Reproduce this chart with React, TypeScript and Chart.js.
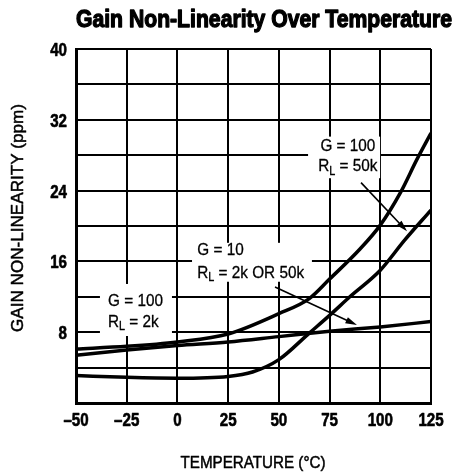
import { useEffect, useRef } from "react";
import { Chart, registerables } from "chart.js";

Chart.register(...registerables);

// ---- data (temperature °C, gain non-linearity ppm) ----
const tempsA = [-50, -25, 0, 25, 50, 65, 75, 90, 100, 110, 118, 125];
const gainA = [6.1, 6.4, 6.9, 7.8, 10.1, 11.8, 14.0, 17.4, 20.1, 23.8, 27.5, 30.5];

const tempsB = [-50, -25, 0, 25, 37, 50, 65, 75, 85, 100, 112, 125];
const gainB = [3.1, 2.9, 2.8, 3.0, 3.5, 4.9, 7.9, 9.9, 12.0, 15.0, 18.4, 21.8];

const tempsC = [-50, -25, 0, 25, 50, 75, 100, 125];
const gainC = [5.4, 6.0, 6.5, 6.9, 7.5, 8.1, 8.6, 9.2];

const xTicks = [-50, -25, 0, 25, 50, 75, 100, 125];
const yLabelTicks = [8, 16, 24, 32, 40];

const TITLE = "Gain Non-Linearity Over Temperature";
const X_TITLE = "TEMPERATURE (°C)";
const Y_TITLE = "GAIN NON-LINEARITY (ppm)";

// annotation labels, anchored in data coords (°C, ppm)
type Label = { g: string; rl: string; x: number; y1: number; y2: number; align: "center" | "left"; box: [number, number, number, number] };
const labels: Label[] = [
  { g: "G = 100", rl: "= 50k", x: 84.0, y1: 29.0, y2: 26.7, align: "center", box: [64.4, 30.1, 99.9, 25.4] },
  { g: "G = 10", rl: "= 2k OR 50k", x: 9.8, y1: 17.2, y2: 14.7, align: "left", box: [7.2, 18.1, 66.3, 13.7] },
  { g: "G = 100", rl: "= 2k", x: -34.2, y1: 11.5, y2: 9.15, align: "left", box: [-38.2, 13.45, -2.7, 7.57] },
];
const arrows: [number, number, number, number][] = [
  [90.5, 24.9, 113.2, 19.4],
  [48.1, 13.1, 88.5, 8.8],
];

const FONT = '"Liberation Sans", Arial, sans-serif';
const SX = 0.84; // horizontal condensing to mimic a condensed face
const LSX = 0.9;

const pts = (xs: number[], ys: number[]) => xs.map((x, i) => ({ x, y: ys[i] }));

// draw text condensed horizontally by factor sx, optional stroke to embolden
function drawText(ctx: CanvasRenderingContext2D, text: string, x: number, y: number, align: "left" | "center" | "right", sx: number, stroke = 0) {
  const w = ctx.measureText(text).width * sx;
  let left = x;
  if (align === "center") left = x - w / 2;
  else if (align === "right") left = x - w;
  ctx.save();
  ctx.translate(left, y);
  ctx.scale(sx, 1);
  ctx.textAlign = "left";
  ctx.fillText(text, 0, 0);
  if (stroke > 0) {
    ctx.lineWidth = stroke;
    ctx.lineJoin = "round";
    ctx.strokeText(text, 0, 0);
  }
  ctx.restore();
  return w;
}

const annotPlugin = {
  id: "annot",
  beforeDatasetsDraw(chart: any) {
    const { ctx, scales } = chart;
    const xs = scales.x, ys = scales.y;
    ctx.save();
    ctx.fillStyle = "#fff";
    for (const l of labels) {
      const [x0, y0, x1, y1] = l.box;
      const px0 = xs.getPixelForValue(x0), px1 = xs.getPixelForValue(x1);
      const py0 = ys.getPixelForValue(y0), py1 = ys.getPixelForValue(y1);
      ctx.fillRect(px0, py0, px1 - px0, py1 - py0);
    }
    ctx.restore();
  },
  afterDraw(chart: any) {
    const { ctx, scales } = chart;
    const xs = scales.x, ys = scales.y;
    ctx.save();
    ctx.fillStyle = "#000";
    ctx.strokeStyle = "#000";
    ctx.textBaseline = "middle";

    // tick labels
    ctx.font = `bold 18px ${FONT}`;
    for (const v of xTicks) {
      const t = v < 0 ? "–" + Math.abs(v) : String(v);
      drawText(ctx, t, xs.getPixelForValue(v), 421, "center", SX, 0.6);
    }
    for (const v of yLabelTicks) {
      drawText(ctx, String(v), 67, ys.getPixelForValue(v) + 2, "right", SX, 0.6);
    }

    // labels
    for (const l of labels) {
      const px = xs.getPixelForValue(l.x);
      const py1 = ys.getPixelForValue(l.y1);
      const py2 = ys.getPixelForValue(l.y2);
      ctx.font = `17px ${FONT}`;
      const gW = ctx.measureText(l.g).width * LSX;
      const rW = ctx.measureText("R").width * LSX;
      const restW = ctx.measureText(" " + l.rl).width * LSX;
      ctx.font = `12px ${FONT}`;
      const subW = ctx.measureText("L").width * LSX;
      const total = rW + subW + restW;
      let gx = px, rx = px;
      if (l.align === "center") {
        gx = px - gW / 2;
        rx = px - total / 2;
      }
      ctx.font = `17px ${FONT}`;
      drawText(ctx, l.g, gx, py1, "left", LSX, 0.3);
      drawText(ctx, "R", rx, py2, "left", LSX, 0.3);
      drawText(ctx, " " + l.rl, rx + rW + subW, py2, "left", LSX, 0.3);
      ctx.font = `12px ${FONT}`;
      drawText(ctx, "L", rx + rW, py2 + 5, "left", LSX, 0.3);
    }

    // arrows
    ctx.lineWidth = 1.6;
    for (const [ax0, ay0, ax1, ay1] of arrows) {
      const x0 = xs.getPixelForValue(ax0), y0 = ys.getPixelForValue(ay0);
      const x1 = xs.getPixelForValue(ax1), y1 = ys.getPixelForValue(ay1);
      const ang = Math.atan2(y1 - y0, x1 - x0);
      const len = 12, wid = 0.28;
      ctx.beginPath();
      ctx.moveTo(x0, y0);
      ctx.lineTo(x1 - 6 * Math.cos(ang), y1 - 6 * Math.sin(ang));
      ctx.stroke();
      ctx.beginPath();
      ctx.moveTo(x1, y1);
      ctx.lineTo(x1 - len * Math.cos(ang - wid), y1 - len * Math.sin(ang - wid));
      ctx.lineTo(x1 - len * Math.cos(ang + wid), y1 - len * Math.sin(ang + wid));
      ctx.closePath();
      ctx.fill();
    }

    // chart title
    ctx.font = `bold 24px ${FONT}`;
    const tw = ctx.measureText(TITLE).width;
    drawText(ctx, TITLE, 264, 20, "center", 376 / tw, 1.3);

    // x axis title
    ctx.font = `17px ${FONT}`;
    const xw = ctx.measureText(X_TITLE).width;
    drawText(ctx, X_TITLE, 253, 463, "center", 145 / xw, 0.5);

    // y axis title
    ctx.font = `17px ${FONT}`;
    const yw = ctx.measureText(Y_TITLE).width;
    ctx.save();
    ctx.translate(18, 218);
    ctx.rotate(-Math.PI / 2);
    drawText(ctx, Y_TITLE, 0, 0, "center", 228 / yw, 0.5);
    ctx.restore();

    ctx.restore();
  },
};

export default function App() {
  const ref = useRef<HTMLCanvasElement>(null);
  useEffect(() => {
    if (!ref.current) return;
    const chart = new Chart(ref.current, {
      type: "line",
      data: {
        datasets: [
          { data: pts(tempsA, gainA) },
          { data: pts(tempsB, gainB) },
          { data: pts(tempsC, gainC) },
        ].map((d) => ({
          ...d,
          borderColor: "#000",
          borderWidth: 3.5,
          pointRadius: 0,
          fill: false,
          cubicInterpolationMode: "monotone" as const,
        })),
      },
      options: {
        animation: false,
        responsive: false,
        events: [],
        layout: { padding: { top: 49, right: 33, left: 0, bottom: 0 } },
        plugins: { legend: { display: false }, title: { display: false }, tooltip: { enabled: false } },
        scales: {
          x: {
            type: "linear",
            min: -50,
            max: 125,
            afterBuildTicks: (s: any) => {
              s.ticks = xTicks.map((v) => ({ value: v }));
            },
            afterFit: (s: any) => {
              s.height = 69;
            },
            grid: { color: "#000", lineWidth: 2, drawTicks: false },
            border: { color: "#000", width: 3 },
            ticks: { display: false },
          },
          y: {
            type: "linear",
            min: 0,
            max: 40,
            ticks: { stepSize: 4, display: false },
            afterFit: (s: any) => {
              s.width = 76;
            },
            grid: { color: "#000", lineWidth: 2, drawTicks: false },
            border: { color: "#000", width: 3 },
          },
        },
      },
      plugins: [annotPlugin],
    });
    return () => chart.destroy();
  }, []);
  return (
    <div style={{ position: "absolute", left: 0, top: 0, width: 464, height: 472, background: "#fff" }}>
      <canvas ref={ref} width={464} height={472} />
    </div>
  );
}
